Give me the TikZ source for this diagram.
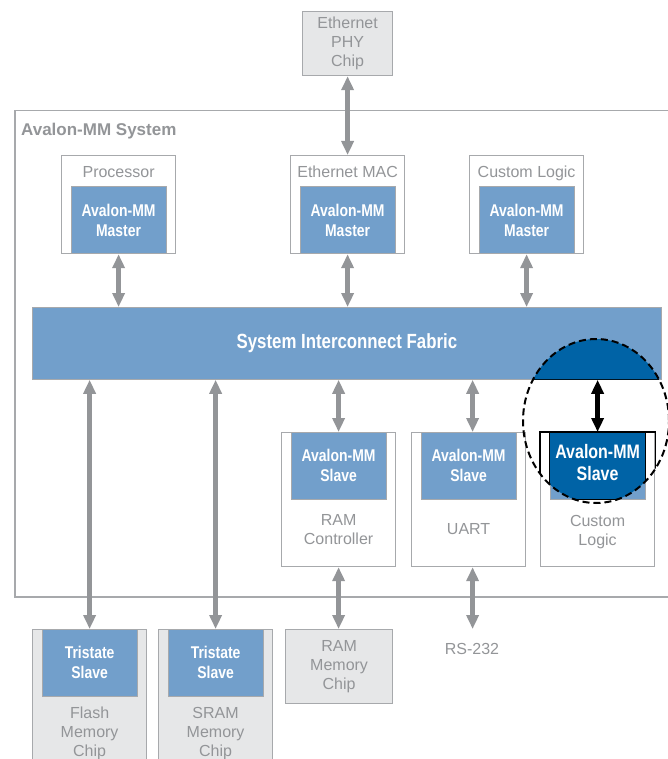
\documentclass[tikz,border=0pt]{standalone}
\usepackage{fontspec}
\setmainfont{Liberation Sans}
\newfontfamily\condfont[FakeStretch=0.82]{Liberation Sans}
\usetikzlibrary{arrows.meta,positioning}
\definecolor{avblue}{RGB}{114,159,203}
\definecolor{hiblue}{RGB}{0,99,166}
\definecolor{boxgray}{RGB}{167,169,172}
\definecolor{txtgray}{RGB}{147,149,152}
\definecolor{arrgray}{RGB}{147,149,152}
\definecolor{chipgray}{RGB}{230,231,232}

\begin{document}
\begin{tikzpicture}[x=1pt, y=-1pt]
\tikzset{
    mybox/.style={rectangle, draw=boxgray, fill=white, line width=1.2pt, inner sep=0pt, minimum width=114pt, anchor=north west},
    mychip/.style={mybox, fill=chipgray, text=txtgray, align=center, font=\fontsize{16}{19}\selectfont},
    myif/.style={rectangle, draw=boxgray, fill=avblue, line width=0.8pt, inner sep=0pt, minimum width=95pt, minimum height=67pt, text=white, align=center, font=\condfont\bfseries\fontsize{17}{20}\selectfont},
    mylabel/.style={text=txtgray, align=center, inner sep=0pt, font=\fontsize{16}{19}\selectfont},
    myarrow/.style={draw=arrgray, line width=4.5pt, {Triangle[width=12pt,length=14pt]}-{Triangle[width=12pt,length=14pt]}},
    hiarrow/.style={myarrow, draw=black}
}
\clip (0,0) rectangle (668,759);

% outside chip on top and the system frame
\node[mychip, minimum width=90pt, minimum height=64pt] (phy) at (302,11) {Ethernet\\PHY\\Chip};
\node[mybox, line width=1.5pt, minimum width=680pt, minimum height=486pt] (sys) at (14,110) {};
\node[mylabel, font=\bfseries\fontsize{17}{20}\selectfont, anchor=base west] (systitle) at (21,136) {Avalon-MM System};

% masters
\node[mybox, minimum height=98pt] (proc) at (61,155) {};
\node[myif, anchor=south] (procm) at (proc.south) {Avalon-MM\\Master};
\node[mylabel, below=11pt of proc.north] (proclabel) {Processor};
\node[mybox, minimum height=98pt] (ethmac) at (290,155) {};
\node[myif, anchor=south] (ethmacm) at (ethmac.south) {Avalon-MM\\Master};
\node[mylabel, below=11pt of ethmac.north] (ethmaclabel) {Ethernet MAC};
\node[mybox, minimum height=98pt] (clm) at (469,155) {};
\node[myif, anchor=south] (clmm) at (clm.south) {Avalon-MM\\Master};
\node[mylabel, below=11pt of clm.north] (clmlabel) {Custom Logic};

\node[rectangle, draw=boxgray, fill=avblue, line width=0.8pt, anchor=north west, minimum width=629pt, minimum height=72pt, text=white, font=\condfont\bfseries\fontsize{20.5}{24}\selectfont] (fabric) at (32,307) {System Interconnect Fabric};

% slaves inside the system
\node[mybox, minimum height=134pt] (ramctl) at (281,432) {};
\node[myif, anchor=north] (ramctls) at (ramctl.north) {Avalon-MM\\Slave};
\node[mylabel, below=14pt of ramctls] (ramctllabel) {RAM\\Controller};
\node[mybox, minimum height=134pt] (uart) at (411,432) {};
\node[myif, anchor=north] (uarts) at (uart.north) {Avalon-MM\\Slave};
\node[mylabel, below=23pt of uarts] (uartlabel) {UART};
\node[mybox, minimum height=134pt] (cl) at (540,432) {};
\node[myif, anchor=north] (cls) at (cl.north) {};
\node[mylabel, below=15pt of cls] (cllabel) {Custom\\Logic};

% chips below
\node[mychip, minimum height=150pt] (flash) at (32,629) {};
\node[myif, anchor=north] (flashs) at (flash.north) {Tristate\\Slave};
\node[mylabel, below=10pt of flashs] (flashlabel) {Flash\\Memory\\Chip};
\node[mychip, minimum height=150pt] (sram) at (158,629) {};
\node[myif, anchor=north] (srams) at (sram.north) {Tristate\\Slave};
\node[mylabel, below=10pt of srams] (sramlabel) {SRAM\\Memory\\Chip};
\node[mychip, minimum width=107pt, minimum height=74pt] (ramchip) at (285,629) {RAM\\Memory\\Chip};
\node[mylabel] (rs) at (472,649) {RS-232};

\draw[myarrow] (phy) -- (ethmac);
\draw[myarrow] (procm.south) -- (procm.south |- fabric.north);
\draw[myarrow] (ethmacm.south) -- (ethmacm.south |- fabric.north);
\draw[myarrow] (clmm.south) -- (clmm.south |- fabric.north);
\draw[myarrow] (flashs.north) -- (flashs.north |- fabric.south);
\draw[myarrow] (srams.north) -- (srams.north |- fabric.south);
\draw[myarrow] (ramctl.north) -- (ramctl.north |- fabric.south);
\draw[myarrow] ([xshift=4pt]uart.north) -- ([xshift=4pt]uart.north |- fabric.south);
\draw[myarrow] (ramctl.south) -- (ramctl.south |- ramchip.north);
\draw[myarrow] ([xshift=4pt]uart.south) -- ([xshift=4pt]uart.south |- ramchip.north);

% highlighted connection
\begin{scope}
  \clip (596,421) ellipse [x radius=73pt, y radius=82pt];
  \fill[hiblue] (fabric.north west) rectangle (fabric.south east);
  \draw[black!80!hiblue, line width=1.2pt] (fabric.south west) -- (fabric.south east);
  \draw[black, line width=1.2pt] (cl.north west) rectangle (cl.south east);
  \draw[black, fill=hiblue, line width=1pt] (cls.north west) rectangle (cls.south east);
\end{scope}
\draw[black, line width=2pt, dash pattern=on 7pt off 4pt] (596,421) ellipse [x radius=73pt, y radius=82pt];
\node[text=white, align=center, inner sep=0pt, font=\condfont\bfseries\fontsize{19.5}{22}\selectfont, yshift=3pt] (clstext) at (cls.center) {Avalon-MM\\Slave};
\draw[hiarrow] (cls.north) -- (cls.north |- fabric.south);

\end{tikzpicture}
\end{document}
